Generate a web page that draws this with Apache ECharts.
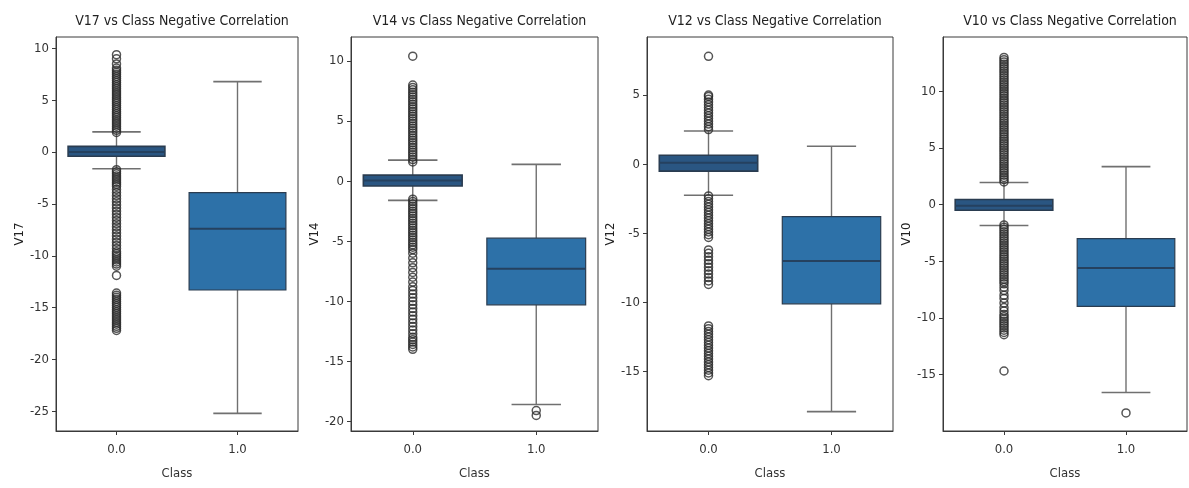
<!DOCTYPE html>
<html>
<head>
<meta charset="utf-8">
<script src="https://cdn.jsdelivr.net/npm/echarts@6/dist/echarts.min.js"></script>
<style>
html,body{margin:0;padding:0;background:#fff;}
#chart{width:1189px;height:488px;}
</style>
</head>
<body>
<div id="chart"></div>
<script>
// ---------- data ----------
const categories = ['0.0', '1.0'];
const features = ['V17', 'V14', 'V12', 'V10'];
const titles = ['V17 vs Class Negative Correlation', 'V14 vs Class Negative Correlation', 'V12 vs Class Negative Correlation', 'V10 vs Class Negative Correlation'];

// box stats: [lowerWhisker, q1, median, q3, upperWhisker]
const v17Box0 = [-1.6, -0.4, 0.0, 0.55, 1.95];
const v17Box1 = [-25.2, -13.3, -7.4, -3.9, 6.8];
const v14Box0 = [-1.6, -0.4, 0.05, 0.5, 1.75];
const v14Box1 = [-18.6, -10.3, -7.3, -4.75, 1.4];
const v12Box0 = [-2.25, -0.5, 0.1, 0.65, 2.4];
const v12Box1 = [-17.9, -10.1, -7.0, -3.8, 1.3];
const v10Box0 = [-1.85, -0.5, -0.1, 0.45, 1.95];
const v10Box1 = [-16.6, -9.0, -5.6, -3.0, 3.35];

// outliers
const v17Out0 = [1.9,2.1,2.3,2.5,2.7,2.9,3.1,3.3,3.5,3.7,3.9,4.1,4.3,4.5,4.7,4.9,5.1,5.3,5.5,5.7,5.9,6.1,6.3,6.5,6.7,6.9,7.1,7.3,7.5,7.7,7.9,8.1,8.5,9.0,9.4,
  -1.7,-1.9,-2.1,-2.3,-2.5,-2.7,-2.9,-3.1,-3.3,-3.6,-3.9,-4.2,-4.5,-4.8,-5.1,-5.4,-5.7,-6.0,-6.3,-6.6,-6.9,-7.2,-7.5,-7.8,-8.1,-8.4,-8.7,-9.0,-9.3,-9.6,-9.8,-10.0,-10.2,-10.4,-10.6,-10.8,-11.0,-11.9,
  -13.6,-13.8,-14.0,-14.2,-14.4,-14.6,-14.8,-15.0,-15.2,-15.4,-15.6,-15.8,-16.0,-16.2,-16.4,-16.6,-16.8,-17.0,-17.2];
const v17Out1 = [];
const v14Out0 = [1.6,1.8,2.0,2.2,2.4,2.6,2.8,3.0,3.2,3.4,3.6,3.8,4.0,4.2,4.4,4.6,4.8,5.0,5.2,5.4,5.6,5.8,6.0,6.2,6.4,6.6,6.8,7.0,7.2,7.4,7.6,7.8,8.0,10.4,
  -1.5,-1.7,-1.9,-2.1,-2.3,-2.5,-2.7,-2.9,-3.1,-3.3,-3.5,-3.7,-3.9,-4.1,-4.3,-4.5,-4.7,-4.9,-5.1,-5.3,-5.5,-5.7,-6.0,-6.4,-6.8,-7.2,-7.6,-8.0,-8.4,-8.8,-9.1,-9.4,-9.7,-10.0,-10.3,-10.6,-10.9,-11.2,-11.5,-11.8,-12.1,-12.4,-12.7,-13.0,-13.2,-13.4,-13.6,-13.8,-14.0];
const v14Out1 = [-19.1, -19.5];
const v12Out0 = [2.5,2.7,2.9,3.1,3.3,3.5,3.7,3.9,4.1,4.3,4.5,4.7,4.9,5.0,7.8,
  -2.3,-2.5,-2.7,-2.9,-3.1,-3.3,-3.5,-3.7,-3.9,-4.1,-4.3,-4.5,-4.7,-4.9,-5.1,-5.3,
  -6.2,-6.45,-6.7,-6.95,-7.2,-7.45,-7.7,-7.95,-8.2,-8.45,-8.7,
  -11.7,-11.9,-12.1,-12.3,-12.5,-12.7,-12.9,-13.1,-13.3,-13.5,-13.7,-13.9,-14.1,-14.3,-14.5,-14.7,-14.9,-15.1,-15.3];
const v12Out1 = [];
const v10Out0 = [2.0,2.2,2.4,2.6,2.8,3.0,3.2,3.4,3.6,3.8,4.0,4.2,4.4,4.6,4.8,5.0,5.2,5.4,5.6,5.8,6.0,6.2,6.4,6.6,6.8,7.0,7.2,7.4,7.6,7.8,8.0,8.2,8.4,8.6,8.8,9.0,9.2,9.4,9.6,9.8,10.0,10.2,10.4,10.6,10.8,11.0,11.2,11.4,11.6,11.8,12.0,12.2,12.4,12.6,12.8,13.0,
  -1.8,-2.0,-2.2,-2.4,-2.6,-2.8,-3.0,-3.2,-3.4,-3.6,-3.8,-4.0,-4.2,-4.4,-4.6,-4.8,-5.0,-5.2,-5.4,-5.6,-5.8,-6.0,-6.2,-6.4,-6.6,-6.8,-7.0,-7.3,-7.6,-8.0,-8.3,-8.7,-9.1,-9.4,-9.7,-9.9,-10.1,-10.3,-10.5,-10.7,-10.9,-11.1,-11.3,-11.5,-14.7];
const v10Out1 = [-18.4];

const yRanges = [[-26.9, 11.1], [-20.8, 12.0], [-19.3, 9.2], [-20.0, 14.8]];

// ---------- layout / style ----------
const panels = [
  { box: [v17Box0, v17Box1], out: [v17Out0, v17Out1] },
  { box: [v14Box0, v14Box1], out: [v14Out0, v14Out1] },
  { box: [v12Box0, v12Box1], out: [v12Out0, v12Out1] },
  { box: [v10Box0, v10Box1], out: [v10Out0, v10Out1] }
];
const grids = [
  { left: 56, top: 37, width: 242, height: 394 },
  { left: 351, top: 37, width: 247, height: 394 },
  { left: 647, top: 37, width: 246, height: 394 },
  { left: 943, top: 37, width: 244, height: 394 }
];
const FONT = "'Liberation Sans Narrow','DejaVu Sans Condensed','DejaVu Sans',sans-serif";
const AX = '#3a3a3a';

function renderBox(params, api) {
  const ci = api.value(0);
  const lo = api.value(1), q1 = api.value(2), med = api.value(3), q3 = api.value(4), hi = api.value(5);
  const band = api.size([1, 0])[0];
  const bw = band * 0.8, cw = band * 0.4;
  const pLo = api.coord([ci, lo]), pQ1 = api.coord([ci, q1]), pMed = api.coord([ci, med]);
  const pQ3 = api.coord([ci, q3]), pHi = api.coord([ci, hi]);
  const cx = pLo[0];
  const dark = ci === 0;
  const fill = dark ? '#2a5682' : '#2d71a8';
  const edge = '#2a3c50';
  const whisk = '#707070';
  return {
    type: 'group',
    children: [
      { type: 'line', shape: { x1: cx, y1: pLo[1], x2: cx, y2: pQ1[1] }, style: { stroke: whisk, lineWidth: 1.4 } },
      { type: 'line', shape: { x1: cx, y1: pQ3[1], x2: cx, y2: pHi[1] }, style: { stroke: whisk, lineWidth: 1.4 } },
      { type: 'line', shape: { x1: cx - cw / 2, y1: pLo[1], x2: cx + cw / 2, y2: pLo[1] }, style: { stroke: whisk, lineWidth: 1.6 } },
      { type: 'line', shape: { x1: cx - cw / 2, y1: pHi[1], x2: cx + cw / 2, y2: pHi[1] }, style: { stroke: whisk, lineWidth: 1.6 } },
      { type: 'rect', shape: { x: cx - bw / 2, y: pQ3[1], width: bw, height: pQ1[1] - pQ3[1] },
        style: { fill: fill, stroke: edge, lineWidth: dark ? 1.6 : 1.2 } },
      { type: 'line', shape: { x1: cx - bw / 2, y1: pMed[1], x2: cx + bw / 2, y2: pMed[1] }, style: { stroke: '#25415f', lineWidth: 2 } }
    ]
  };
}

const option = {
  backgroundColor: '#fff',
  animation: false,
  title: [], grid: [], xAxis: [], yAxis: [], series: []
};

panels.forEach((p, i) => {
  const g = grids[i];
  option.title.push({
    text: titles[i], left: g.left + g.width / 2, top: 9, textAlign: 'center',
    textStyle: { fontFamily: FONT, fontSize: 14, fontWeight: 'normal', color: '#222' }
  });
  option.grid.push({ left: g.left, top: g.top, width: g.width, height: g.height, show: true,
    borderColor: AX, borderWidth: 1, backgroundColor: 'transparent' });
  option.xAxis.push({
    type: 'category', gridIndex: i, data: categories, boundaryGap: true,
    name: 'Class', nameLocation: 'middle', nameGap: 36,
    nameTextStyle: { fontFamily: FONT, fontSize: 13, color: '#333' },
    axisLine: { show: true, onZero: false, lineStyle: { color: AX } },
    axisTick: { show: true, alignWithLabel: true, length: 4, lineStyle: { color: AX } },
    axisLabel: { fontFamily: FONT, fontSize: 13, color: '#333', margin: 12 },
    splitLine: { show: false }
  });
  option.yAxis.push({
    type: 'value', gridIndex: i, min: yRanges[i][0], max: yRanges[i][1], splitNumber: 7,
    name: features[i], nameLocation: 'middle', nameGap: 30, nameRotate: 90,
    nameTextStyle: { fontFamily: FONT, fontSize: 13, color: '#222' },
    axisLine: { show: true, onZero: false, lineStyle: { color: AX } },
    axisTick: { show: true, length: 4, lineStyle: { color: AX } },
    axisLabel: { fontFamily: FONT, fontSize: 13, color: '#333', margin: 7, showMinLabel: false, showMaxLabel: false },
    splitLine: { show: false }
  });
  option.series.push({
    type: 'custom', xAxisIndex: i, yAxisIndex: i, z: 2,
    renderItem: renderBox,
    encode: { x: 0, y: [1, 2, 3, 4, 5] },
    data: p.box.map((b, ci) => [ci].concat(b))
  });
  const pts = [];
  p.out.forEach((arr, ci) => arr.forEach(v => pts.push([ci, v])));
  option.series.push({
    type: 'scatter', xAxisIndex: i, yAxisIndex: i, z: 3,
    symbol: 'circle', symbolSize: 8,
    itemStyle: { color: 'rgba(0,0,0,0)', borderColor: '#2a2a2a', borderWidth: 1.5 },
    data: pts
  });
});

const chart = echarts.init(document.getElementById('chart'), null, { renderer: 'canvas' });
chart.setOption(option);
</script>
</body>
</html>
